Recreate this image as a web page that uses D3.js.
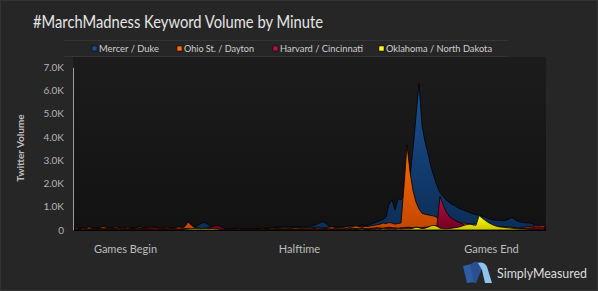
<!DOCTYPE html>
<html>
<head>
<meta charset="utf-8">
<script src="https://cdn.jsdelivr.net/npm/d3@7"></script>
<style>
  body { margin: 0; background: #262626; }
  svg { display: block; }
  text { font-family: Lato, "Open Sans", sans-serif; }
</style>
</head>
<body>
<script>
// values in thousands of tweets per minute, one per minute
let mercer = [
  0.04,0.05,0.03,0.06,0.05,0.04,0.05,0.03,0.04,0.06,
  0.05,0.07,0.06,0.05,0.08,0.06,0.05,0.04,0.06,0.05,
  0.04,0.06,0.05,0.07,0.05,0.04,0.05,0.06,0.04,0.05,
  0.06,0.05,0.07,0.05,0.04,0.06,0.05,0.04,0.08,0.10,
  0.12,0.18,0.26,0.32,0.30,0.20,0.12,0.08,0.06,0.05,
  0.05,0.04,0.05,0.06,0.05,0.04,0.06,0.05,0.04,0.05,
  0.06,0.05,0.04,0.06,0.05,0.07,0.08,0.10,0.12,0.14,
  0.15,0.14,0.16,0.15,0.13,0.14,0.12,0.13,0.15,0.18,
  0.20,0.25,0.32,0.36,0.28,0.17,0.13,0.12,0.14,0.13,
  0.12,0.15,0.20,0.16,0.13,0.18,0.22,0.18,0.20,0.25,
  0.30,0.35,0.40,0.45,0.55,1.10,1.30,0.85,1.35,1.30,
  1.50,1.80,2.30,3.50,4.90,6.30,4.50,3.80,3.30,2.70,
  2.30,1.90,1.60,1.45,1.30,1.20,1.10,1.05,0.95,0.90,
  0.85,0.80,0.75,0.70,0.66,0.64,0.60,0.55,0.50,0.45,
  0.43,0.42,0.42,0.40,0.42,0.48,0.55,0.45,0.38,0.34,
  0.32,0.31,0.30,0.28,0.03,0.02,0.02,0.01
];
let ohio = [
  0.10,0.12,0.08,0.11,0.09,0.13,0.10,0.07,0.09,0.12,
  0.14,0.10,0.08,0.11,0.13,0.09,0.07,0.10,0.12,0.09,
  0.08,0.11,0.13,0.10,0.08,0.12,0.14,0.11,0.09,0.07,
  0.10,0.12,0.09,0.08,0.11,0.13,0.10,0.15,0.35,0.22,
  0.12,0.09,0.07,0.06,0.05,0.06,0.05,0.04,0.05,0.06,
  0.05,0.06,0.07,0.05,0.04,0.06,0.05,0.06,0.04,0.05,
  0.06,0.05,0.07,0.08,0.06,0.07,0.09,0.08,0.10,0.09,
  0.08,0.10,0.09,0.11,0.10,0.09,0.12,0.10,0.08,0.11,
  0.10,0.12,0.09,0.08,0.10,0.12,0.14,0.11,0.10,0.09,
  0.12,0.14,0.11,0.15,0.18,0.14,0.12,0.16,0.15,0.18,
  0.20,0.22,0.25,0.30,0.28,0.32,0.30,0.25,0.28,0.30,
  1.90,3.65,2.50,1.70,1.20,0.90,0.72,0.68,0.65,0.62,
  0.60,0.55,0.25,0.22,0.24,0.22,0.25,0.28,0.30,0.28,
  0.30,0.28,0.26,0.25,0.27,0.25,0.22,0.20,0.18,0.16,
  0.15,0.14,0.15,0.13,0.12,0.14,0.12,0.10,0.09,0.10,
  0.12,0.14,0.15,0.16,0.18,0.20,0.19,0.17
];
let harvard = [
  0.06,0.05,0.07,0.05,0.06,0.04,0.06,0.05,0.07,0.06,
  0.05,0.06,0.05,0.07,0.06,0.05,0.04,0.06,0.05,0.07,
  0.06,0.05,0.07,0.06,0.08,0.09,0.10,0.12,0.10,0.08,
  0.07,0.06,0.05,0.06,0.05,0.04,0.05,0.06,0.05,0.04,
  0.05,0.04,0.05,0.06,0.08,0.10,0.14,0.18,0.20,0.15,
  0.08,0.06,0.05,0.06,0.05,0.04,0.05,0.06,0.05,0.04,
  0.05,0.06,0.05,0.04,0.06,0.05,0.04,0.05,0.06,0.05,
  0.04,0.05,0.06,0.05,0.04,0.05,0.06,0.05,0.04,0.05,
  0.06,0.05,0.04,0.05,0.06,0.05,0.04,0.06,0.05,0.04,
  0.05,0.06,0.05,0.07,0.06,0.05,0.08,0.06,0.05,0.07,
  0.08,0.10,0.09,0.08,0.10,0.12,0.10,0.09,0.08,0.10,
  0.10,0.12,0.11,0.10,0.12,0.11,0.10,0.12,0.13,0.14,
  0.15,0.20,1.45,1.10,0.80,0.60,0.50,0.42,0.35,0.30,
  0.22,0.15,0.12,0.10,0.09,0.10,0.08,0.09,0.07,0.08,
  0.07,0.06,0.07,0.06,0.05,0.06,0.07,0.06,0.05,0.06,
  0.07,0.08,0.09,0.10,0.12,0.14,0.12,0.10
];
let oklahoma = [
  0.02,0.01,0.02,0.03,0.02,0.01,0.02,0.01,0.02,0.03,
  0.02,0.01,0.02,0.01,0.02,0.03,0.02,0.01,0.02,0.01,
  0.02,0.03,0.02,0.01,0.02,0.01,0.02,0.03,0.02,0.01,
  0.02,0.01,0.02,0.03,0.02,0.01,0.02,0.03,0.04,0.05,
  0.06,0.06,0.05,0.06,0.06,0.05,0.06,0.05,0.04,0.02,
  0.02,0.01,0.02,0.01,0.02,0.03,0.02,0.01,0.02,0.01,
  0.02,0.01,0.02,0.01,0.02,0.01,0.02,0.01,0.02,0.01,
  0.02,0.01,0.02,0.01,0.02,0.01,0.02,0.01,0.02,0.01,
  0.02,0.03,0.02,0.01,0.02,0.01,0.02,0.03,0.02,0.01,
  0.02,0.03,0.02,0.03,0.02,0.03,0.04,0.03,0.02,0.03,
  0.03,0.04,0.03,0.05,0.04,0.03,0.04,0.03,0.05,0.04,
  0.05,0.06,0.05,0.08,0.12,0.10,0.06,0.08,0.12,0.18,
  0.20,0.16,0.08,0.06,0.05,0.06,0.08,0.10,0.12,0.15,
  0.20,0.23,0.25,0.22,0.20,0.62,0.52,0.42,0.33,0.26,
  0.20,0.16,0.13,0.12,0.10,0.09,0.08,0.06,0.05,0.04,
  0.04,0.03,0.03,0.02,0.02,0.02,0.01,0.01
];

let seriesNames = ["Mercer / Duke", "Ohio St. / Dayton", "Harvard / Cincinnati", "Oklahoma / North Dakota"];
let seriesValues = [mercer, ohio, harvard, oklahoma];
let yTicks = [0, 1, 2, 3, 4, 5, 6, 7];
let xTickMinutes = [17, 75, 139];
let xTickLabels = ["Games Begin", "Halftime", "Games End"];

let colorsTop = ["#1b5192", "#ff6c00", "#b8113e", "#ffff10"];
let colorsBottom = ["#0c2c55", "#c24600", "#6e0020", "#c9c400"];

const W = 598, H = 291;
const plot = { left: 73, right: 546, top: 57, bottom: 231 };

let svg = d3.select("body").append("svg")
    .attr("width", W)
    .attr("height", H);

let defs = svg.append("defs");

let bg = defs.append("linearGradient")
    .attr("id", "plotbg")
    .attr("x1", 0).attr("y1", 0).attr("x2", 0).attr("y2", 1);
bg.append("stop").attr("offset", "0%").attr("stop-color", "#1c1c1c");
bg.append("stop").attr("offset", "100%").attr("stop-color", "#121212");

seriesNames.forEach((name, k) => {
    let g = defs.append("linearGradient")
        .attr("id", "grad" + k)
        .attr("x1", 0).attr("y1", 0).attr("x2", 0).attr("y2", 1);
    g.append("stop").attr("offset", "0%").attr("stop-color", colorsTop[k]);
    g.append("stop").attr("offset", "100%").attr("stop-color", colorsBottom[k]);
});

// frame
svg.append("rect")
    .attr("x", 0.5).attr("y", 0.5)
    .attr("width", W - 1).attr("height", H - 1)
    .attr("fill", "#262626")
    .attr("stroke", "#333");

// title
svg.append("text")
    .attr("x", 33)
    .attr("y", 28)
    .attr("fill", "#e4e4e4")
    .attr("font-size", 18)
    .attr("textLength", 290)
    .attr("lengthAdjust", "spacingAndGlyphs")
    .text("#MarchMadness Keyword Volume by Minute");

// legend band
svg.append("line")
    .attr("x1", 64).attr("x2", 508).attr("y1", 40.5).attr("y2", 40.5)
    .attr("stroke", "#353535");
svg.append("line")
    .attr("x1", 64).attr("x2", 508).attr("y1", 56.5).attr("y2", 56.5)
    .attr("stroke", "#353535");

let legendX = [92, 177, 273, 379];
let legendW = [60, 70, 83, 106];
seriesNames.forEach((name, k) => {
    svg.append("rect")
        .attr("x", legendX[k]).attr("y", 46)
        .attr("width", 5).attr("height", 5)
        .attr("fill", colorsTop[k])
        .attr("stroke", "#000")
        .attr("stroke-width", 0.5);
    svg.append("text")
        .attr("x", legendX[k] + 7)
        .attr("y", 52)
        .attr("fill", "#cfcfcf")
        .attr("font-size", 10)
        .attr("textLength", legendW[k])
        .attr("lengthAdjust", "spacingAndGlyphs")
        .text(name);
});

// plot background
svg.append("rect")
    .attr("x", plot.left).attr("y", plot.top)
    .attr("width", plot.right - plot.left)
    .attr("height", plot.bottom - plot.top)
    .attr("fill", "url(#plotbg)");

let x = d3.scaleLinear()
    .domain([0, mercer.length - 1])
    .range([plot.left + 1, plot.right - 1]);

let y = d3.scaleLinear()
    .domain([0, 7])
    .range([230, 67.3]);

let area = d3.area()
    .x((d, i) => x(i))
    .y0(y(0))
    .y1(d => y(d))
    .curve(d3.curveLinear);

seriesValues.forEach((vals, k) => {
    svg.append("path")
        .datum(vals)
        .attr("d", area)
        .attr("fill", "url(#grad" + k + ")")
        .attr("stroke", "#000")
        .attr("stroke-width", 0.8)
        .attr("stroke-linejoin", "round");
});

// y axis
let yAxis = d3.axisLeft(y)
    .tickValues(yTicks)
    .tickSize(0)
    .tickPadding(9)
    .tickFormat(d => d === 0 ? "0" : d.toFixed(1) + "K");

let yg = svg.append("g")
    .attr("transform", `translate(${plot.left},0)`)
    .call(yAxis);
yg.select(".domain").attr("stroke", "#9a9a9a");
yg.selectAll("text")
    .attr("fill", "#b4b4b4")
    .attr("font-size", 10)
    .attr("font-family", "Lato, sans-serif");

// x labels
let xAxis = d3.axisBottom(x)
    .tickValues(xTickMinutes)
    .tickSize(0)
    .tickPadding(14)
    .tickFormat((d, i) => xTickLabels[i]);

let xg = svg.append("g")
    .attr("transform", `translate(0,${plot.bottom})`)
    .call(xAxis);
xg.select(".domain").remove();
xg.selectAll("text")
    .attr("fill", "#bdbdbd")
    .attr("font-size", 11)
    .attr("font-family", "Lato, sans-serif");

// y title
svg.append("text")
    .attr("transform", "translate(24,148) rotate(-90)")
    .attr("text-anchor", "middle")
    .attr("fill", "#bdbdbd")
    .attr("font-size", 10)
    .attr("font-weight", "bold")
    .text("Twitter Volume");

// logo
let logo = svg.append("g").attr("transform", "translate(463,262)");
logo.append("path")
    .attr("d", "M0,4 L8,2 L12,20 L4,21 Z")
    .attr("fill", "#2e5da6");
logo.append("path")
    .attr("d", "M7,3 C12,-2 18,-1 20,4 L13,21 L11,21 Z")
    .attr("fill", "#2a4f90");
logo.append("path")
    .attr("d", "M15,1 C20,-1 24,2 25,8 L29,21 L22,21 L19,8 Z")
    .attr("fill", "#8ec4ec");
svg.append("text")
    .attr("x", 497)
    .attr("y", 278)
    .attr("fill", "#dedede")
    .attr("font-size", 13.5)
    .attr("textLength", 90)
    .attr("lengthAdjust", "spacingAndGlyphs")
    .text("SimplyMeasured");
</script>
</body>
</html>
